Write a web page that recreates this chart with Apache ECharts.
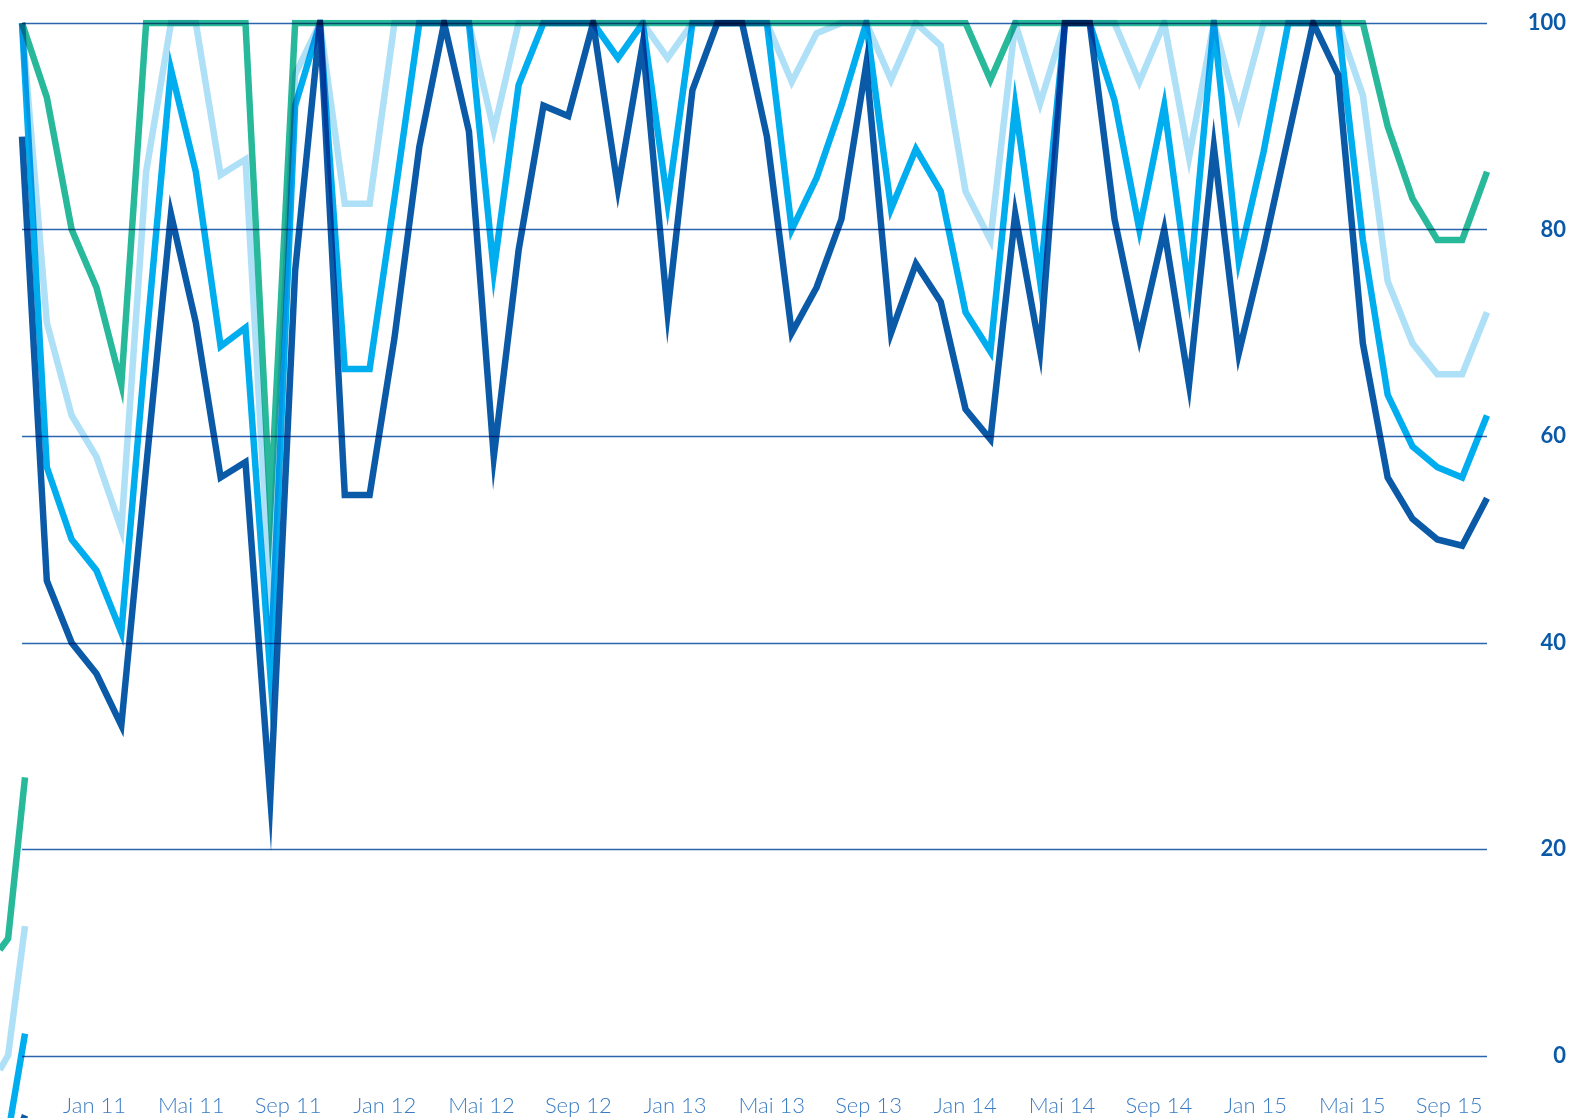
<!DOCTYPE html>
<html>
<head>
<meta charset="utf-8">
<script src="https://cdn.jsdelivr.net/npm/echarts@6/dist/echarts.min.js"></script>
<style>
    html, body { margin: 0; padding: 0; background: #fff; }
    #main { width: 1584px; height: 1118px; }
</style>
</head>
<body>
<div id="main"></div>
<script>
// monthly points, one value per series (index 0 = left edge of the plot)
var lightBlue = [100, 71, 62, 58, 51, 85.6, 100, 100, 85.3, 86.8,
    44, 95, 100, 82.5, 82.5, 100, 100, 100, 100, 89.6,
    100, 100, 100, 100, 100, 100, 96.6, 100, 100, 100,
    100, 94.3, 99, 100, 100, 94.5, 100, 97.8, 83.7, 79,
    100, 92.2, 100, 100, 100, 94.3, 100, 87, 100, 91,
    100, 100, 100, 100, 93, 75, 69, 66, 66, 72];
var green = [100, 92.8, 80, 74.4, 65, 100, 100, 100, 100, 100,
    53, 100, 100, 100, 100, 100, 100, 100, 100, 100,
    100, 100, 100, 100, 100, 100, 100, 100, 100, 100,
    100, 100, 100, 100, 100, 100, 100, 100, 100, 94.5,
    100, 100, 100, 100, 100, 100, 100, 100, 100, 100,
    100, 100, 100, 100, 100, 90, 83, 79, 79, 85.6];
var cyan = [100, 57, 50, 47, 41, 69, 95.5, 85.6, 68.7, 70.5,
    37, 92, 100, 66.5, 66.5, 83, 100, 100, 100, 76,
    94, 100, 100, 100, 96.6, 100, 82.6, 100, 100, 100,
    100, 80, 85, 92, 100, 82, 87.8, 83.7, 72, 68.2,
    92, 75, 100, 100, 92.5, 80, 92, 74, 100, 77,
    87.5, 100, 100, 100, 79, 64, 59, 57, 56, 62];
var darkBlue = [89, 46, 40, 37, 32, 57, 81.5, 71, 56, 57.5,
    25, 76, 100, 54.3, 54.3, 69.5, 88, 100, 89.5, 58,
    78, 92, 91, 100, 84, 98, 72, 93.5, 100, 100,
    89, 70, 74.4, 81, 96, 70, 76.7, 73, 62.6, 59.7,
    81.5, 68.3, 100, 100, 81, 69.5, 80, 65, 88, 68,
    78, 89, 100, 95, 69, 56, 52, 50, 49.4, 54];

// the cut-off pieces that hang over the left border
var fragX = [-0.9, -0.57, 0.1];
var lightBlueFrag = [-1.3, 0.1, 12.6];
var greenFrag = [10.3, 11.4, 27];
var cyanFrag = [-9, -7.5, 2.2];
var darkBlueFrag = [-12, -10, -5.7];

// x labels (every 4 months, month 0 = Jan 11)
var xLabels = ['Jan 11', 'Mai 11', 'Sep 11', 'Jan 12', 'Mai 12', 'Sep 12', 'Jan 13', 'Mai 13',
    'Sep 13', 'Jan 14', 'Mai 14', 'Sep 14', 'Jan 15', 'Mai 15', 'Sep 15'];
var yTicks = [0, 20, 40, 60, 80, 100];

window.onload = () => {
    var chartDom = document.getElementById('main');
    var myChart = echarts.init(chartDom, null, { renderer: 'canvas' });
    var option;

    function pairs(arr) {
        return arr.map(function (v, i) { return [i, v]; });
    }
    function fragPairs(arr) {
        return arr.map(function (v, i) { return [fragX[i], v]; });
    }
    function lineSeries(name, color, data, isFrag) {
        return {
            name: name,
            type: 'line',
            xAxisIndex: isFrag ? 2 : 0,
            yAxisIndex: isFrag ? 1 : 0,
            data: isFrag ? fragPairs(data) : pairs(data),
            symbol: 'none',
            blendMode: 'multiply',
            silent: true,
            lineStyle: {
                color: color,
                width: 6.5,
                join: 'miter',
                miterLimit: 60,
                cap: 'butt'
            }
        };
    }

    var monthTicks = xLabels.map(function (t, i) { return i * 4; });

    option = {
        backgroundColor: '#ffffff',
        animation: false,
        grid: [{
            left: 22,
            right: 97,
            top: 23,
            bottom: 62,
            outerBoundsMode: 'none'
        }, {
            // a strip over the left border for the cut-off pieces (same scale as the main plot)
            left: -5,
            right: 1559,
            top: 23,
            bottom: -145,
            outerBoundsMode: 'none'
        }],
        xAxis: [{
            type: 'value',
            min: 0,
            max: 59,
            position: 'top',
            show: false
        }, {
            type: 'value',
            min: -3,
            max: 57.57,
            position: 'bottom',
            axisLine: { show: false },
            axisTick: { show: false },
            splitLine: { show: false },
            axisLabel: {
                customValues: monthTicks,
                formatter: function (v) {
                    return xLabels[Math.round(v / 4)];
                },
                margin: 39,
                fontFamily: 'Lato',
                fontWeight: 300,
                fontSize: 22,
                color: '#3a7cc4'
            }
        }, {
            type: 'value',
            gridIndex: 1,
            min: -1.09,
            max: 0.1,
            show: false
        }],
        yAxis: [{
            type: 'value',
            position: 'right',
            min: yTicks[0],
            max: yTicks[yTicks.length - 1],
            interval: 20,
            axisLine: { show: false },
            axisTick: { show: false },
            splitLine: {
                lineStyle: { color: '#2a66ae', width: 1.4 }
            },
            axisLabel: {
                align: 'right',
                margin: 79,
                fontFamily: 'Lato',
                fontWeight: 'bold',
                fontSize: 22,
                color: '#0b5aa8'
            }
        }, {
            type: 'value',
            gridIndex: 1,
            min: -20,
            max: 100,
            show: false
        }],
        series: [
            lineSeries('hellblau', '#aee0f7', lightBlue),
            lineSeries('grün', '#27b99a', green),
            lineSeries('cyan', '#00adef', cyan),
            lineSeries('dunkelblau', '#0b5aa8', darkBlue),
            lineSeries('hellblau-r', '#aee0f7', lightBlueFrag, true),
            lineSeries('grün-r', '#27b99a', greenFrag, true),
            lineSeries('cyan-r', '#00adef', cyanFrag, true),
            lineSeries('dunkelblau-r', '#0b5aa8', darkBlueFrag, true)
        ]
    };
    option && myChart.setOption(option);
};
</script>
</body>
</html>
